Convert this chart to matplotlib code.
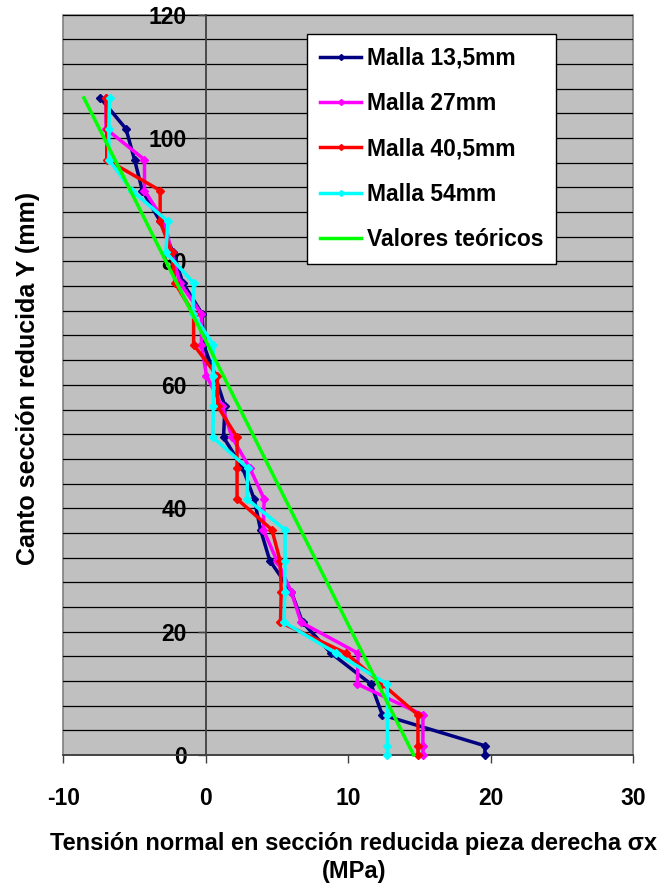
import numpy as np
import matplotlib
matplotlib.use("Agg")
import matplotlib.pyplot as plt
from matplotlib.ticker import MultipleLocator

plt.rcParams['font.family'] = ['Liberation Sans', 'DejaVu Sans']
plt.rcParams['font.weight'] = 'bold'
plt.rcParams['axes.unicode_minus'] = False

# heights of the mesh nodes (mm)
canto = [0, 1.5, 6.5, 11.5, 16.5, 21.5, 26.5, 31.5, 36.5, 41.5, 46.5, 51.5,
         56.5, 61.5, 66.5, 71.5, 76.5, 81.5, 86.5, 91.5, 96.5, 101.5, 106.5]

malla_13_5 = [19.6, 19.6, 12.4, 11.6, 8.8, 6.8, 6.0, 4.5, 3.85, 3.4, 2.6, 1.25,
              1.35, 0.65, -0.15, -0.25, -1.6, -2.3, -3.2, -4.45, -5.0, -5.6, -7.4]
malla_27 = [15.25, 15.25, 15.25, 10.65, 10.7, 6.7, 6.0, 5.0, 4.05, 4.1, 3.1, 1.85,
            1.15, 0.05, -0.3, -0.3, -1.8, -2.4, -2.9, -4.3, -4.3, -7.0, -7.0]
malla_40_5 = [14.9, 14.9, 14.9, 12.4, 9.85, 5.25, 5.3, 5.22, 4.65, 2.2, 2.2, 2.2,
              0.85, 0.8, -0.85, -0.85, -2.15, -2.4, -3.2, -3.2, -6.95, -6.95, -7.0]
malla_54 = [12.75, 12.75, 12.75, 12.75, 9.15, 5.5, 5.55, 5.57, 5.57, 2.9, 2.95, 0.5,
            0.54, 0.54, 0.54, -0.9, -0.85, -2.8, -2.65, -5.2, -6.8, -6.8, -6.75]

# theoretical straight line
canto_teo = [0, 106.5]
teoricos = [14.6, -8.55]

series = [
    (malla_13_5, '#000080', 'Malla 13,5mm'),
    (malla_27, '#FF00FF', 'Malla 27mm'),
    (malla_40_5, '#FF0000', 'Malla 40,5mm'),
    (malla_54, '#00FFFF', 'Malla 54mm'),
]

fig = plt.figure(figsize=(6.69, 8.85), dpi=100)
ax = fig.add_axes([63.3 / 669, 1 - 755 / 885, (633 - 63.3) / 669, (755 - 14.7) / 885])
ax.set_facecolor('#C0C0C0')
ax.patch.set_edgecolor('#808080')
ax.patch.set_linewidth(1.2)

for vals, col, lab in series:
    ax.plot(vals, canto, color=col, lw=2.5, marker='D', ms=4.5, label=lab,
            clip_on=False, zorder=3)
ax.plot(teoricos, canto_teo, color='#00FF00', lw=2.5, label='Valores teóricos',
        clip_on=False, zorder=3)

ax.set_xlim(-10, 30)
ax.set_ylim(0, 120)
ax.xaxis.set_major_locator(MultipleLocator(10))
ax.yaxis.set_major_locator(MultipleLocator(20))
ax.yaxis.set_minor_locator(MultipleLocator(4))
ax.grid(True, axis='y', which='both', color='black', lw=0.9)
ax.set_axisbelow(True)

for s in ['top', 'right']:
    ax.spines[s].set_visible(False)
ax.spines['left'].set_position(('data', 0))
ax.spines['left'].set_color('#404040')
ax.spines['left'].set_linewidth(1.3)
ax.spines['left'].set_zorder(2)
ax.spines['bottom'].set_color('#404040')
ax.spines['bottom'].set_linewidth(1.3)

ax.tick_params(axis='x', direction='out', length=6, width=1, colors='#404040',
               pad=17, labelsize=16.5, labelcolor='black')
ax.tick_params(axis='y', which='major', direction='out', length=5.5, width=1,
               colors='#404040', pad=8, labelsize=16.5, labelcolor='black')
ax.tick_params(axis='y', which='minor', length=0)
for t in ax.get_xticklabels() + ax.get_yticklabels():
    t.set_fontweight('bold')

leg = ax.legend(loc='upper left', bbox_to_anchor=(307.3 / 669, 1 - 34 / 885),
                bbox_transform=fig.transFigure, borderaxespad=0, fancybox=False,
                framealpha=1, edgecolor='black', prop={'size': 16.5, 'weight': 'bold'},
                handlelength=1.8, handletextpad=0.25, labelspacing=0.98,
                borderpad=0.55)
leg.get_frame().set_linewidth(1.0)
for h in leg.get_lines():
    h.set_markersize(3)

fig.text(28 / 669, 1 - 378 / 885, 'Canto sección reducida Y (mm)', rotation=90,
         ha='center', va='center', fontsize=18, fontweight='bold')
fig.text(354 / 669, 1 - 857.5 / 885,
         'Tensión normal en sección reducida pieza derecha σx\n(MPa)',
         ha='center', va='center', multialignment='center', fontsize=17,
         fontweight='bold', linespacing=1.3)

fig.savefig('out.png', dpi=100)
